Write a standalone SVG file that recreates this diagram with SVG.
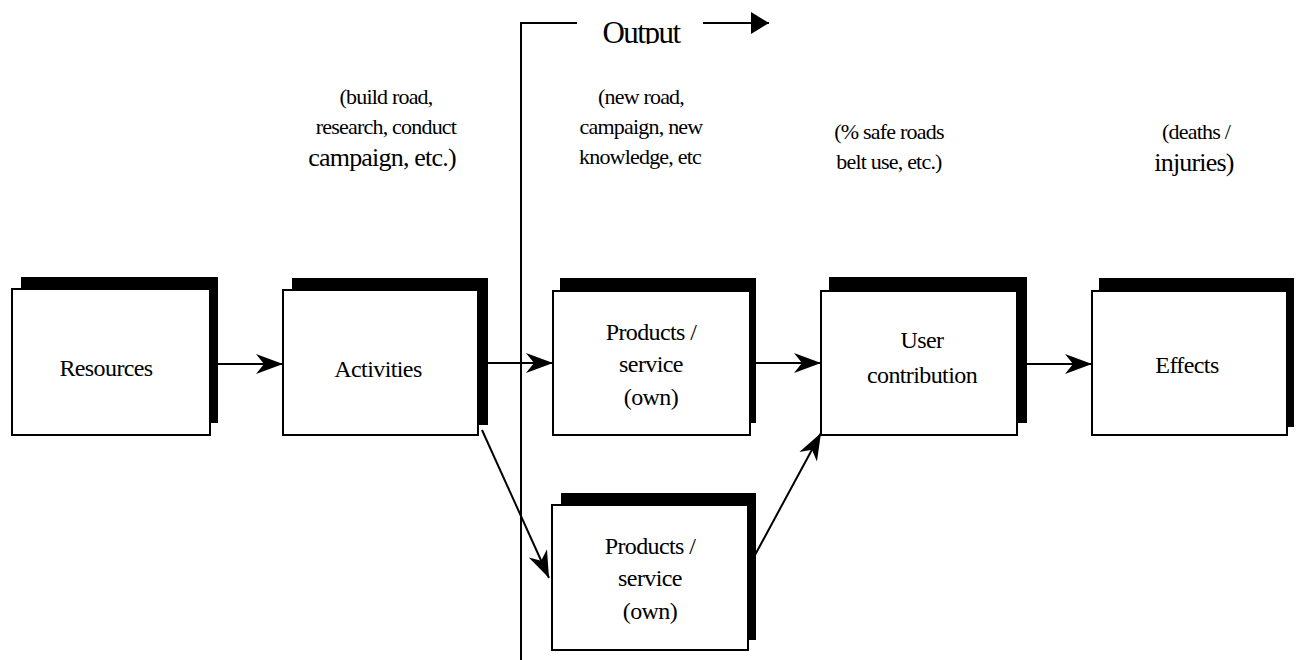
<svg xmlns="http://www.w3.org/2000/svg" width="1299" height="660" viewBox="0 0 1299 660">
<style>
.box{fill:#fff;stroke:#000;stroke-width:2}
.sh{fill:#000}
text{font-family:'Liberation Serif', 'Times New Roman', serif;fill:#000}
.lbl{font-size:24px;text-anchor:middle;letter-spacing:-0.6px}
.ann{font-size:22px;text-anchor:middle;letter-spacing:-0.8px}
.big{font-size:26px}
.con{stroke:#000;stroke-width:2;fill:none}
</style>
<defs>
<marker id="barb" markerUnits="userSpaceOnUse" markerWidth="30" markerHeight="24" viewBox="-28 -12 30 24" refX="0" refY="0" orient="auto">
<path d="M0,0 L-27,-10 L-19,0 L-27,10 Z" fill="#000"/>
</marker>
<marker id="tri" markerUnits="userSpaceOnUse" markerWidth="22" markerHeight="26" viewBox="-20 -12 22 24" refX="0" refY="0" orient="auto">
<path d="M0,0 L-18,-11 L-18,11 Z" fill="#000"/>
</marker>
<clipPath id="clipOut"><rect x="580" y="0" width="120" height="44"/></clipPath>
</defs>
<rect width="1299" height="660" fill="#fff"/>

<g id="output-bracket">
<path class="con" d="M521,660 L521,23 L577,23"/>
<text x="641" y="43" clip-path="url(#clipOut)" font-size="31" text-anchor="middle" letter-spacing="-1.5">Output</text>
<line class="con" x1="703" y1="23" x2="769" y2="23" marker-end="url(#tri)"/>
</g>

<g id="annotations">
<text class="ann" x="386" y="104">(build road,</text>
<text class="ann" x="386" y="134">research, conduct</text>
<text class="ann big" x="382" y="166">campaign, etc.)</text>
<text class="ann" x="641" y="104">(new road,</text>
<text class="ann" x="641" y="134">campaign, new</text>
<text class="ann" x="640" y="164">knowledge, etc</text>
<text class="ann" x="889" y="139">(% safe roads</text>
<text class="ann" x="889" y="169">belt use, etc.)</text>
<text class="ann" x="1196" y="139">(deaths /</text>
<text class="ann big" x="1194" y="171">injuries)</text>
</g>

<g id="resources">
<rect class="sh" x="21" y="277" width="197" height="146"/>
<rect class="box" x="12" y="289" width="198" height="146"/>
<text class="lbl" x="106" y="376">Resources</text>
</g>
<g id="activities">
<rect class="sh" x="292" y="278" width="196" height="147"/>
<rect class="box" x="283" y="290" width="195" height="145"/>
<text class="lbl" x="378" y="377">Activities</text>
</g>
<g id="products1">
<rect class="sh" x="560" y="278" width="196" height="145"/>
<rect class="box" x="553" y="291" width="197" height="144"/>
<text class="lbl" x="651" y="340">Products /</text>
<text class="lbl" x="651" y="372">service</text>
<text class="lbl" x="651" y="405">(own)</text>
</g>
<g id="products2">
<rect class="sh" x="561" y="493" width="195" height="147"/>
<rect class="box" x="552" y="505" width="196" height="145"/>
<text class="lbl" x="650" y="554">Products /</text>
<text class="lbl" x="650" y="586">service</text>
<text class="lbl" x="650" y="619">(own)</text>
</g>
<g id="user">
<rect class="sh" x="829" y="277" width="198" height="146"/>
<rect class="box" x="821" y="291" width="196" height="144"/>
<text class="lbl" x="922" y="348">User</text>
<text class="lbl" x="922" y="383">contribution</text>
</g>
<g id="effects">
<rect class="sh" x="1099" y="278" width="195" height="149"/>
<rect class="box" x="1092" y="291" width="195" height="144"/>
<text class="lbl" x="1187" y="373">Effects</text>
</g>

<g id="connectors">
<line class="con" x1="218" y1="364" x2="283" y2="364" marker-end="url(#barb)"/>
<line class="con" x1="488" y1="363" x2="553" y2="363" marker-end="url(#barb)"/>
<line class="con" x1="756" y1="363" x2="821" y2="363" marker-end="url(#barb)"/>
<line class="con" x1="1027" y1="364" x2="1092" y2="364" marker-end="url(#barb)"/>
<line class="con" x1="482" y1="430" x2="549" y2="578" marker-end="url(#barb)"/>
<line class="con" x1="755" y1="555" x2="821" y2="433" marker-end="url(#barb)"/>
</g>
</svg>
